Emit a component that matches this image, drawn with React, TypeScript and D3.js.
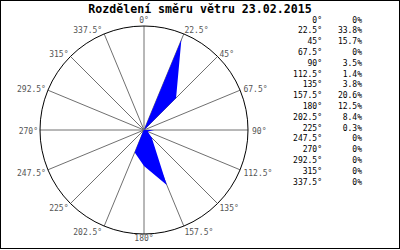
import React from "react";
import * as d3 from "d3";

const title = "Rozdělení směru větru 23.02.2015";
const directions = [0, 22.5, 45, 67.5, 90, 112.5, 135, 157.5, 180, 202.5, 225, 247.5, 270, 292.5, 315, 337.5];
const values = [0, 33.8, 15.7, 0, 3.5, 1.4, 3.8, 20.6, 12.5, 8.4, 0.3, 0, 0, 0, 0, 0];
const radialMax = 36;

const W = 400;
const H = 250;
const cx = 144;
const cy = 130;
const R = 104;
const mono = "'DejaVu Sans Mono', monospace";

export default function App() {
  const r = d3.scaleLinear().domain([0, radialMax]).range([0, R]);
  const ang = (d: number) => (d * Math.PI) / 180;
  const line = d3
    .lineRadial<number>()
    .angle((_, i) => ang(directions[i]))
    .radius((v) => r(v))
    .curve(d3.curveLinearClosed);
  const path = line(values) || "";

  const fmtDeg = (d: number) => `${d}°`;
  const fmtPct = (v: number) => (v === 0 ? "0%" : `${v.toFixed(1)}%`);

  return (
    <svg
      width={W}
      height={H}
      style={{ position: "absolute", left: 0, top: 0, background: "#fff" }}
    >
      <rect x={0.5} y={0.5} width={W - 1} height={248} fill="#fff" stroke="#000" />
      <text
        x={200}
        y={12.5}
        textAnchor="middle"
        fontFamily={mono}
        fontWeight="bold"
        fontSize={11.6}
        fill="#000"
      >
        {title}
      </text>
      <g>
        {directions.map((d) => {
          const a = ang(d);
          return (
            <line
              key={d}
              x1={cx}
              y1={cy}
              x2={cx + R * Math.sin(a)}
              y2={cy - R * Math.cos(a)}
              stroke="#707070"
              strokeWidth={1}
            />
          );
        })}
        <circle cx={cx} cy={cy} r={R} fill="none" stroke="#000" strokeWidth={1} />
        <path d={path} transform={`translate(${cx},${cy})`} fill="#0000ff" stroke="none" />
      </g>
      <g fontFamily={mono} fontSize={8} fill="#555">
        {directions.map((d) => {
          const a = ang(d);
          const s = Math.sin(a);
          const c = Math.cos(a);
          const px = cx + R * s;
          const py = cy - R * c;
          let anchor: "start" | "middle" | "end" = "middle";
          let x = px;
          if (s > 0.01) {
            anchor = "start";
            x = px + 4 * s * s;
          } else if (s < -0.01) {
            anchor = "end";
            x = px - 2;
          }
          let yc = py - 5.5 * c + 1;
          if (c > 0.99) yc = 19.5;
          if (c < -0.99) yc = 238;
          return (
            <text key={d} x={x} y={yc + 3} textAnchor={anchor}>
              {fmtDeg(d)}
            </text>
          );
        })}
      </g>
      <g fontFamily={mono} fontSize={8} fill="#000">
        {directions.map((d, i) => {
          const y = 19.5 + i * 10.8 + 3;
          return (
            <g key={d}>
              <text x={322} y={y} textAnchor="end">
                {fmtDeg(d)}
              </text>
              <text x={362} y={y} textAnchor="end">
                {fmtPct(values[i])}
              </text>
            </g>
          );
        })}
      </g>
    </svg>
  );
}
